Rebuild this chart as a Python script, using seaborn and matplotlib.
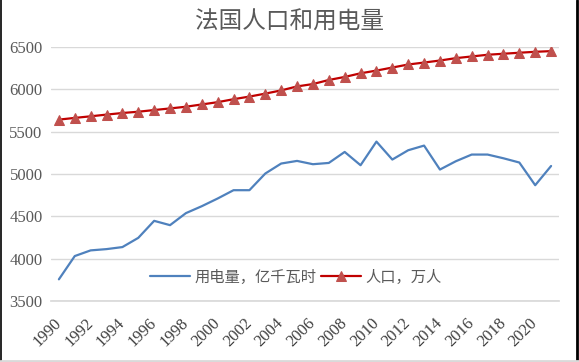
import numpy as np
import pandas as pd
import matplotlib
matplotlib.use("Agg")
import matplotlib.pyplot as plt
from matplotlib.lines import Line2D
import seaborn as sns

# Data
years = list(range(1990, 2022))
electricity = [3756, 4031, 4098, 4113, 4137, 4246, 4447, 4396, 4538, 4620,
               4711, 4809, 4809, 5006, 5124, 5155, 5116, 5131, 5261, 5104,
               5383, 5171, 5281, 5336, 5053, 5151, 5230, 5230, 5186, 5136,
               4868, 5095]
population = [5643, 5663, 5682, 5702, 5721, 5736, 5756, 5775, 5795, 5822,
              5849, 5884, 5915, 5950, 5988, 6035, 6063, 6111, 6147, 6190,
              6222, 6258, 6294, 6317, 6341, 6369, 6389, 6409, 6421, 6433,
              6444, 6452]
y_ticks = [3500, 4000, 4500, 5000, 5500, 6000, 6500]
x_tick_years = list(range(1990, 2021, 2))

label_elec = "用电量，亿千瓦时"
label_pop = "人口，万人"
title = "法国人口和用电量"

sns.set_theme(style="white")
plt.rcParams['font.family'] = ['Noto Sans CJK SC', 'DejaVu Sans']

grey = "#595959"

fig = plt.figure(figsize=(5.79, 3.62), dpi=100)
ax = fig.add_axes([0.088, 0.1685, 0.8775, 0.7015])

df = pd.DataFrame({"year": years, "elec": electricity, "pop": population})

sns.lineplot(data=df, x="year", y="elec", ax=ax, color="#4F81BD",
             linewidth=1.6, label=label_elec)
sns.lineplot(data=df, x="year", y="pop", ax=ax, color="#C00000",
             linewidth=1.6, marker="^", markersize=6.5,
             markerfacecolor="#C0504D", markeredgecolor="#C0504D",
             label=label_pop)

ax.set_xlim(1989.5, 2021.5)
ax.set_ylim(3500, 6500)
ax.set_yticks(y_ticks)
ax.set_xticks(x_tick_years)
ax.set_xlabel("")
ax.set_ylabel("")
ax.grid(axis="y", color="#D9D9D9", linewidth=1)
ax.grid(axis="x", visible=False)
for s in ["top", "right", "left"]:
    ax.spines[s].set_visible(False)
ax.spines["bottom"].set_color("#D9D9D9")
ax.tick_params(axis="y", length=0, pad=6, labelsize=12,
               labelcolor=grey, labelfontfamily="Liberation Serif")
ax.tick_params(axis="x", length=0, pad=14, labelsize=12,
               labelcolor="#404040", labelfontfamily="Liberation Serif",
               labelrotation=45)
for lab in ax.get_xticklabels():
    lab.set_ha("right")
    lab.set_va("center")
    lab.set_rotation_mode("anchor")

leg = ax.legend(loc="center", bbox_to_anchor=(0.482, 0.094), ncol=2,
                frameon=False, fontsize=11, handlelength=2.6,
                handletextpad=0.3, columnspacing=0.3, borderaxespad=0)
for t in leg.get_texts():
    t.set_color(grey)

fig.text(0.5, 0.94, title, ha="center", va="center", fontsize=17,
         color=grey)

# chart frame edges
fig.add_artist(Line2D([0.001, 0.001], [0, 1], color="black", linewidth=1.2,
                      transform=fig.transFigure))
fig.add_artist(Line2D([0.997, 0.997], [0, 1], color="black", linewidth=2,
                      transform=fig.transFigure))
fig.add_artist(Line2D([0, 1], [0.003, 0.003], color="#D9D9D9", linewidth=2,
                      transform=fig.transFigure))

fig.savefig("out.png", dpi=100)
